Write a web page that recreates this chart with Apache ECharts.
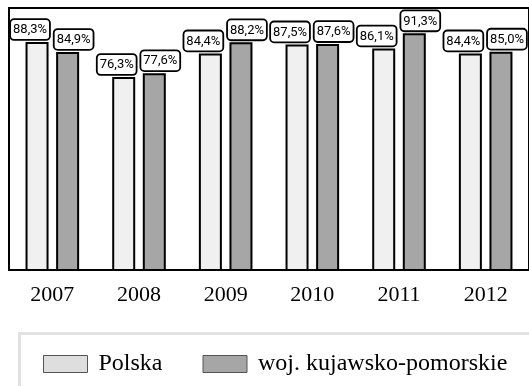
<!DOCTYPE html>
<html>
<head>
<meta charset="utf-8">
<script src="https://cdn.jsdelivr.net/npm/echarts@6/dist/echarts.min.js"></script>
<style>
  html, body { margin: 0; padding: 0; background: #fff; }
  #chart { width: 529px; height: 386px; }
</style>
</head>
<body>
<div id="chart"></div>
<script>
// Years on the category axis
const years = ['2007', '2008', '2009', '2010', '2011', '2012'];
// Share (%) for the whole country and for the region
const polska = [88.3, 76.3, 84.4, 87.5, 86.1, 84.4];
const kujawsko = [84.9, 77.6, 88.2, 87.6, 91.3, 85.0];
const seriesNames = ['Polska', 'woj. kujawsko-pomorskie'];

const labelFont = 'Roboto, "Noto Sans", sans-serif';
const serif = '"Liberation Serif", "DejaVu Serif", serif';

function pct(p) {
  return p.value.toFixed(1).replace('.', ',') + '%';
}

function valueLabel(dx) {
  return {
    show: true,
    position: 'top',
    distance: 3,
    offset: [dx, 0],
    formatter: pct,
    fontFamily: labelFont,
    fontSize: 13,
    lineHeight: 16,
    color: '#000',
    backgroundColor: '#fff',
    borderColor: '#000',
    borderWidth: 1.8,
    borderRadius: 3,
    padding: [2, 2, 1, 2]
  };
}

const chart = echarts.init(document.getElementById('chart'), null, { renderer: 'canvas' });
chart.setOption({
  animation: false,
  backgroundColor: '#fff',
  grid: {
    left: 9, top: 8, width: 524, height: 262,
    show: true, borderColor: '#000', borderWidth: 2, backgroundColor: 'transparent'
  },
  xAxis: {
    type: 'category',
    data: years,
    axisLine: { show: true, lineStyle: { color: '#000', width: 2 } },
    axisTick: { show: false },
    axisLabel: { fontFamily: serif, fontSize: 22, color: '#000', margin: 14 }
  },
  yAxis: {
    type: 'value',
    min: 10,
    max: 100,
    show: false,
    splitLine: { show: false }
  },
  legend: {
    left: 38,
    top: 347,
    icon: 'rect',
    itemWidth: 44,
    itemHeight: 17,
    itemGap: 40,
    textStyle: { fontFamily: serif, fontSize: 24, color: '#000', padding: [0, 0, 0, 6] },
    data: [
      { name: seriesNames[0], itemStyle: { color: '#dedede', borderColor: '#555', borderWidth: 1 } },
      { name: seriesNames[1], itemStyle: { color: '#a6a6a6', borderColor: '#555', borderWidth: 1 } }
    ]
  },
  graphic: [{
    type: 'rect',
    left: 17, top: 331,
    shape: { width: 600, height: 200 },
    style: { fill: 'none', stroke: '#e2e2e2', lineWidth: 3 },
    silent: true
  }],
  series: [
    {
      name: seriesNames[0],
      type: 'bar',
      data: polska,
      barWidth: 23,
      barGap: '33%',
      itemStyle: { color: '#f0f0f0', borderColor: '#000', borderWidth: 2 },
      label: valueLabel(-7)
    },
    {
      name: seriesNames[1],
      type: 'bar',
      data: kujawsko,
      barWidth: 23,
      itemStyle: { color: '#a6a6a6', borderColor: '#000', borderWidth: 2 },
      label: valueLabel(6)
    }
  ]
});
</script>
</body>
</html>
